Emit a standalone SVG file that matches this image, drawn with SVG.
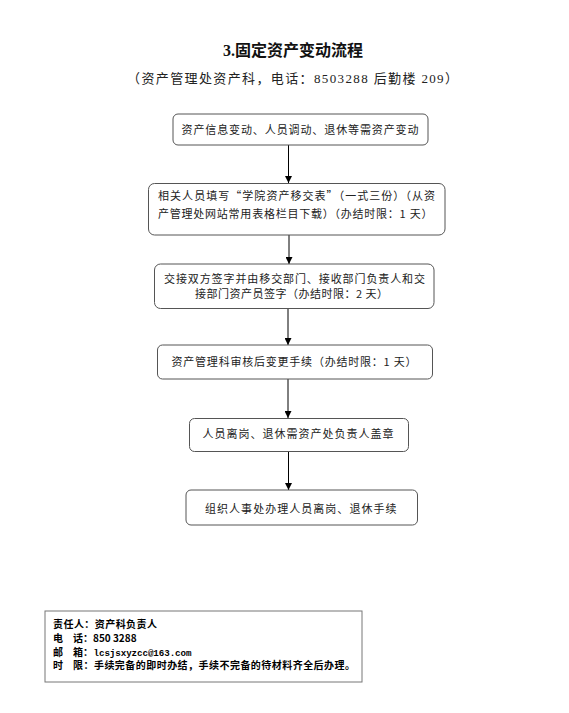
<svg xmlns="http://www.w3.org/2000/svg" width="569" height="713" viewBox="0 0 569 713">
<style>
.bg{fill:#fff}
.box{fill:#fff;stroke:#555;stroke-width:1}
.t{font-family:"Noto Sans CJK SC","Noto Sans",sans-serif;font-size:11px;fill:#222}
.title{font-family:"Liberation Serif","Noto Sans CJK SC",serif;font-size:16px;font-weight:bold;fill:#111}
.sub{font-family:"Liberation Serif","Noto Sans CJK SC",serif;font-size:13px;fill:#222}
.b{font-family:"Noto Sans CJK SC","Noto Sans",sans-serif;font-size:10px;font-weight:bold;fill:#000}
.m{font-family:"Liberation Mono","Noto Sans CJK SC",monospace;font-size:9.2px;font-weight:bold;fill:#000}
.c{stroke:#000;stroke-width:1;fill:none}
</style>
<defs>
<marker id="ah" viewBox="0 0 10 10" refX="10" refY="5" markerWidth="7" markerHeight="7" markerUnits="userSpaceOnUse" orient="auto">
<path d="M0,0 L10,5 L0,10 z" fill="#000"/>
</marker>
</defs>
<rect class="bg" x="0" y="0" width="569" height="713"/>
<g id="title">
<text class="title" x="293" y="56" text-anchor="middle">3.固定资产变动流程</text>
<text class="sub" x="127" y="83" textLength="331" lengthAdjust="spacing">（资产管理处资产科，电话：8503288 后勤楼 209）</text>
</g>
<g id="connectors">
<line class="c" x1="288.5" y1="145" x2="288.5" y2="183" marker-end="url(#ah)"/>
<line class="c" x1="289" y1="235" x2="289" y2="264" marker-end="url(#ah)"/>
<line class="c" x1="288" y1="308" x2="288" y2="345" marker-end="url(#ah)"/>
<line class="c" x1="288" y1="379" x2="288" y2="418" marker-end="url(#ah)"/>
<line class="c" x1="288.5" y1="452" x2="288.5" y2="490" marker-end="url(#ah)"/>
</g>
<g id="n1">
<rect class="box" x="173" y="114" width="255" height="31" rx="5"/>
<text class="t" x="181.5" y="133.5" textLength="237" lengthAdjust="spacing">资产信息变动、人员调动、退休等需资产变动</text>
</g>
<g id="n2">
<rect class="box" x="148.5" y="183.5" width="296.5" height="51.5" rx="6"/>
<text class="t" x="158" y="200" textLength="277" lengthAdjust="spacing">相关人员填写“学院资产移交表”（一式三份）（从资</text>
<text class="t" x="158" y="217.5" textLength="274.5" lengthAdjust="spacing">产管理处网站常用表格栏目下载）（办结时限：1 天）</text>
</g>
<g id="n3">
<rect class="box" x="154.5" y="264" width="279.5" height="44.5" rx="6"/>
<text class="t" x="164" y="282.5" textLength="261" lengthAdjust="spacing">交接双方签字并由移交部门、接收部门负责人和交</text>
<text class="t" x="195" y="297.5" textLength="193" lengthAdjust="spacing">接部门资产员签字（办结时限：2 天）</text>
</g>
<g id="n4">
<rect class="box" x="157.5" y="345" width="275" height="34" rx="5"/>
<text class="t" x="171.5" y="366" textLength="245" lengthAdjust="spacing">资产管理科审核后变更手续（办结时限：1 天）</text>
</g>
<g id="n5">
<rect class="box" x="189.5" y="418.5" width="219" height="33" rx="5"/>
<text class="t" x="202.5" y="437.5" textLength="191" lengthAdjust="spacing">人员离岗、退休需资产处负责人盖章</text>
</g>
<g id="n6">
<rect class="box" x="186" y="490" width="231.5" height="35" rx="5"/>
<text class="t" x="205" y="512.5" textLength="191.5" lengthAdjust="spacing">组织人事处办理人员离岗、退休手续</text>
</g>
<g id="info">
<rect x="45" y="611" width="317" height="71" fill="#fff" stroke="#777" stroke-width="1"/>
<text class="b" x="53" y="628" textLength="104" lengthAdjust="spacing">责任人：资产科负责人</text>
<text class="b" x="53" y="641.5">电<tspan x="73">话：850 3288</tspan></text>
<text class="b" x="53" y="655.5">邮<tspan x="73">箱：</tspan></text>
<text class="m" x="93.5" y="655.5" textLength="98" lengthAdjust="spacing">lcsjsxyzcc@163.com</text>
<text class="b" x="53" y="669">时<tspan x="73" textLength="282" lengthAdjust="spacing">限：手续完备的即时办结，手续不完备的待材料齐全后办理。</tspan></text>
</g>
</svg>
